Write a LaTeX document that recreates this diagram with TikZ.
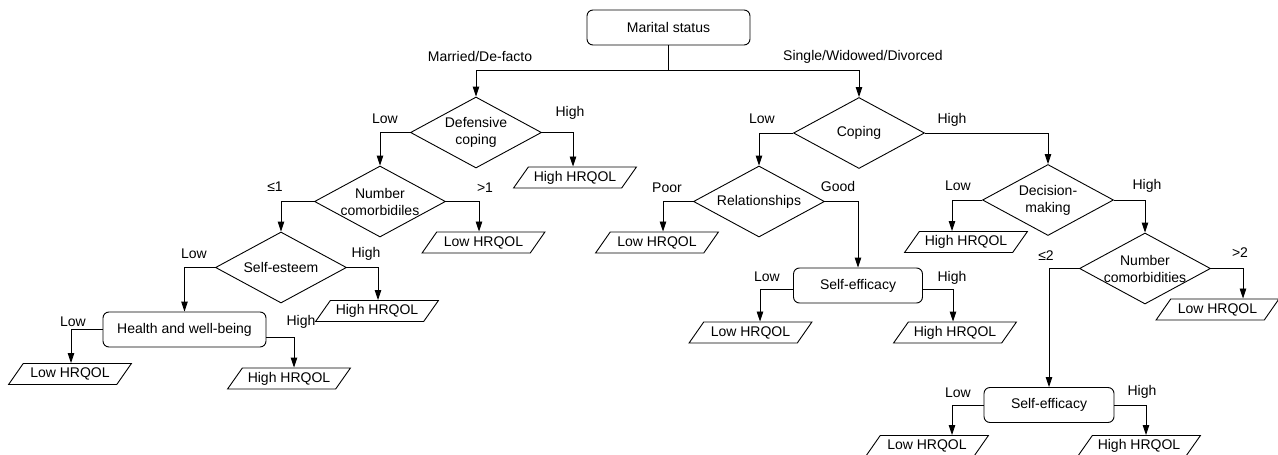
\documentclass[tikz,border=0pt]{standalone}
\usepackage{fontspec}
\setmainfont{Liberation Sans}
\usetikzlibrary{shapes.geometric, arrows.meta}
\begin{document}
\begin{tikzpicture}[x=1pt, y=-1pt, font=\fontsize{14}{17}\selectfont, line width=0.9pt,
  arr/.style={-{Triangle[length=10pt,width=6.5pt]}},
  box/.style={draw, rounded corners=6pt, minimum height=35pt, inner sep=0pt},
  dia/.style={draw, diamond, minimum width=131pt, minimum height=71pt, inner sep=0pt},
  par/.style={draw, trapezium, trapezium left angle=45, trapezium right angle=135,
    trapezium stretches=true, minimum width=123pt, minimum height=21pt, inner sep=0pt},
  lab/.style={inner sep=0pt},
  every label/.style={align=center, inner sep=0pt}]
\useasboundingbox (0,0) rectangle (1278,455);
\clip (0,0) rectangle (1278,455);

% root
\node[box, minimum width=163pt] (root) at (668.5,27.5) {Marital status};
\coordinate (j) at (668.5,70);

% left subtree
\node[dia, label={center:Defensive\\coping}] (dc) at (476,132.5) {};
\node[par] (pdc) at (575,177.5) {High HRQOL};
\node[dia, label={center:Number\\comorbidiles}] (nc1) at (380,201.5) {};
\node[par] (pnc1) at (483.5,242.5) {Low HRQOL};
\node[dia, label={center:Self-esteem}] (se) at (281,267.5) {};
\node[par] (pse) at (377,311) {High HRQOL};
\node[box, minimum width=163pt] (hw) at (184.5,329.5) {Health and well-being};
\node[par] (phwl) at (70,374) {Low HRQOL};
\node[par] (phwh) at (289,378.5) {High HRQOL};

% right subtree
\node[dia, label={center:Coping}] (cop) at (859,133) {};
\node[dia, label={center:Relationships}] (rel) at (759,201.5) {};
\node[par] (prp) at (657,242.5) {Low HRQOL};
\node[box, minimum width=129pt] (se1) at (858,285.5) {Self-efficacy};
\node[par] (ps1l) at (750.5,332.5) {Low HRQOL};
\node[par] (ps1h) at (955,332.5) {High HRQOL};
\node[dia, label={center:Decision-\\making}] (dm) at (1048,200) {};
\node[par] (pdml) at (966,242) {High HRQOL};
\node[dia, label={center:Number\\comorbidities}] (nc2) at (1145,268.5) {};
\node[par] (pnc2) at (1217.5,309.5) {Low HRQOL};
\node[box, minimum width=130pt] (se2) at (1049,405) {Self-efficacy};
\node[par] (ps2l) at (927,446) {Low HRQOL};
\node[par] (ps2h) at (1139,446) {High HRQOL};

% connectors
\draw (root.south) -- (j);
\draw[arr] (j) -| (dc.north);
\draw[arr] (j) -| (cop.north);

\draw[arr] (dc.west) -| (nc1.north);
\draw[arr] (dc.east) -| ([xshift=-2pt]pdc.north);
\draw[arr] (nc1.west) -| (se.north);
\draw[arr] (nc1.east) -| ([xshift=-4.5pt]pnc1.north);
\draw[arr] (se.west) -| (hw.north);
\draw[arr] (se.east) -| ([xshift=1pt]pse.north);
\draw[arr] (hw.west) -| ([xshift=1pt]phwl.north);
\draw[arr] ([yshift=-7.5pt]hw.east) -| ([xshift=5pt]phwh.north);

\draw[arr] (cop.west) -| (rel.north);
\draw[arr] (cop.east) -| (dm.north);
\draw[arr] (rel.west) -| ([xshift=6pt]prp.north);
\draw[arr] (rel.east) -| (se1.north);
\draw[arr] ([yshift=-4pt]se1.west) -| ([xshift=9.5pt]ps1l.north);
\draw[arr] ([yshift=-4pt]se1.east) -| ([xshift=-2pt]ps1h.north);
\draw[arr] (dm.west) -| ([xshift=-14pt]pdml.north);
\draw[arr] (dm.east) -| (nc2.north);
\draw[arr] (nc2.east) -| ([xshift=25.5pt]pnc2.north);
\draw[arr] (nc2.west) -| (se2.north);
\draw[arr] (se2.west) -| ([xshift=25pt]ps2l.north);
\draw[arr] (se2.east) -| ([xshift=7pt]ps2h.north);

% branch labels
\node[lab] (l1) at (480,56) {Married/De-facto};
\node[lab] (l2) at (863,57) {Single/Widowed/Divorced};
\node[lab] (l3) at (385,119) {Low};
\node[lab] (l4) at (570,113) {High};
\node[lab] (l5) at (275,187) {≤1};
\node[lab] (l6) at (485,188) {>1};
\node[lab] (l7) at (194,254) {Low};
\node[lab] (l8) at (366,254) {High};
\node[lab] (l9) at (73,322) {Low};
\node[lab] (l10) at (301,322) {High};
\node[lab] (l11) at (762,119) {Low};
\node[lab] (l12) at (952,120) {High};
\node[lab] (l13) at (667,188) {Poor};
\node[lab] (l14) at (838,186) {Good};
\node[lab] (l15) at (767,277) {Low};
\node[lab] (l16) at (952,278) {High};
\node[lab] (l17) at (958,186) {Low};
\node[lab] (l18) at (1147,186) {High};
\node[lab] (l19) at (1046,256) {≤2};
\node[lab] (l20) at (1240,253) {>2};
\node[lab] (l21) at (958,393) {Low};
\node[lab] (l22) at (1142,392) {High};
\end{tikzpicture}
\end{document}
